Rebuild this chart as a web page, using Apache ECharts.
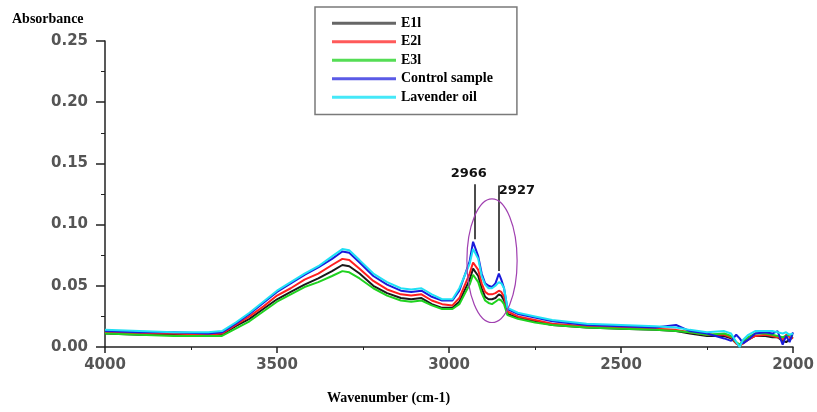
<!DOCTYPE html>
<html>
<head>
<meta charset="utf-8">
<script src="https://cdn.jsdelivr.net/npm/echarts@6/dist/echarts.min.js"></script>
<style>
  html, body { margin: 0; padding: 0; background: #fff; }
  #chart { width: 817px; height: 412px; }
</style>
</head>
<body>
<div id="chart"></div>
<script>
// wavenumbers (cm-1), descending
const wavenumbers = [4000, 3900, 3800, 3700, 3660, 3620, 3580, 3540, 3500, 3460, 3420, 3380, 3340, 3310, 3290, 3260, 3220, 3180, 3140, 3110, 3080, 3050, 3020, 2990, 2970, 2955, 2940, 2930, 2925, 2915, 2905, 2895, 2885, 2875, 2865, 2855, 2848, 2840, 2830, 2800, 2750, 2700, 2600, 2500, 2400, 2340, 2300, 2250, 2200, 2180, 2165, 2155, 2145, 2130, 2110, 2080, 2060, 2045, 2030, 2020, 2010, 2000]

const e1l = [0.011, 0.010, 0.010, 0.009, 0.010, 0.017, 0.023, 0.031, 0.039, 0.045, 0.051, 0.056, 0.062, 0.067, 0.066, 0.060, 0.050, 0.044, 0.040, 0.039, 0.040, 0.035, 0.032, 0.032, 0.037, 0.046, 0.055, 0.064, 0.065, 0.058, 0.048, 0.041, 0.039, 0.039, 0.040, 0.043, 0.042, 0.038, 0.027, 0.024, 0.021, 0.018, 0.016, 0.015, 0.014, 0.013, 0.011, 0.009, 0.009, 0.007, 0.003, 0.001, 0.004, 0.006, 0.009, 0.009, 0.008, 0.008, 0.005, 0.004, 0.006, 0.008]
const e2l = [0.012, 0.011, 0.011, 0.010, 0.011, 0.018, 0.025, 0.033, 0.042, 0.048, 0.055, 0.060, 0.067, 0.072, 0.071, 0.064, 0.054, 0.047, 0.043, 0.042, 0.043, 0.038, 0.035, 0.034, 0.040, 0.050, 0.060, 0.069, 0.070, 0.063, 0.052, 0.045, 0.043, 0.043, 0.044, 0.046, 0.045, 0.041, 0.029, 0.025, 0.022, 0.019, 0.017, 0.016, 0.015, 0.014, 0.012, 0.010, 0.010, 0.008, 0.003, 0.001, 0.003, 0.006, 0.009, 0.010, 0.009, 0.008, 0.006, 0.010, 0.008, 0.007]
const e3l = [0.011, 0.010, 0.009, 0.009, 0.009, 0.015, 0.021, 0.029, 0.037, 0.043, 0.049, 0.053, 0.058, 0.062, 0.061, 0.056, 0.048, 0.042, 0.038, 0.037, 0.038, 0.034, 0.031, 0.031, 0.035, 0.043, 0.051, 0.059, 0.060, 0.053, 0.044, 0.038, 0.036, 0.035, 0.037, 0.039, 0.038, 0.035, 0.026, 0.023, 0.020, 0.018, 0.016, 0.015, 0.014, 0.013, 0.012, 0.010, 0.011, 0.009, 0.004, 0.002, 0.005, 0.008, 0.011, 0.011, 0.010, 0.009, 0.008, 0.009, 0.010, 0.009]
const control = [0.013, 0.012, 0.012, 0.011, 0.012, 0.019, 0.027, 0.036, 0.045, 0.052, 0.059, 0.065, 0.072, 0.078, 0.077, 0.069, 0.058, 0.051, 0.046, 0.045, 0.046, 0.041, 0.038, 0.038, 0.046, 0.058, 0.070, 0.086, 0.087, 0.074, 0.060, 0.052, 0.050, 0.049, 0.052, 0.060, 0.055, 0.048, 0.031, 0.027, 0.024, 0.021, 0.018, 0.017, 0.016, 0.018, 0.013, 0.011, 0.007, 0.005, 0.010, 0.007, 0.003, 0.006, 0.011, 0.012, 0.011, 0.013, 0.002, 0.009, 0.004, 0.012]
const lavender = [0.014, 0.013, 0.012, 0.012, 0.013, 0.020, 0.028, 0.037, 0.046, 0.053, 0.060, 0.066, 0.074, 0.080, 0.079, 0.071, 0.060, 0.053, 0.048, 0.047, 0.048, 0.043, 0.039, 0.039, 0.048, 0.058, 0.068, 0.080, 0.081, 0.072, 0.058, 0.051, 0.048, 0.048, 0.050, 0.053, 0.052, 0.048, 0.032, 0.028, 0.025, 0.022, 0.019, 0.018, 0.017, 0.016, 0.014, 0.012, 0.013, 0.011, 0.004, 0.000, 0.006, 0.010, 0.013, 0.013, 0.013, 0.012, 0.011, 0.012, 0.010, 0.011]

const seriesNames = ['E1l', 'E2l', 'E3l', 'Control sample', 'Lavender oil']
const seriesColors = ['#1a1a1a', '#ff1f1f', '#1fd21f', '#1a1adb', '#1fe0f5']
const legendColors = ['#666666', '#ff5a5a', '#55dd55', '#5a5ae6', '#45e8f8']
const xTicks = [4000, 3500, 3000, 2500, 2000]
const yTicks = [0.00, 0.05, 0.10, 0.15, 0.20, 0.25]

// peak annotations: [wavenumber, bottom, top, label]
const peakMarks = [
  [2925, 0.088, 0.133, '2966'],
  [2855, 0.062, 0.132, '2927'],
]
// ellipse around the peaks, in data units: center and one corner
const ellipseCenter = [2875, 0.0705]
const ellipseEdge = [2802, 0.121]

const chart = echarts.init(document.getElementById('chart'))

const allValues = [e1l, e2l, e3l, control, lavender]
const serifBold = { fontFamily: 'Liberation Serif', fontWeight: 'bold', color: '#000' }

const option = {
  animation: false,
  backgroundColor: '#fff',
  title: [
    { text: 'Absorbance', left: 12, top: 12, padding: 0, textStyle: Object.assign({ fontSize: 14 }, serifBold) },
    { text: 'Wavenumber (cm-1)', left: 327, top: 391, padding: 0, textStyle: Object.assign({ fontSize: 14 }, serifBold) },
  ],
  legend: {
    orient: 'vertical',
    left: 315,
    top: 7,
    padding: [9, 24, 10, 17],
    borderColor: '#7a7a7a',
    borderWidth: 1.5,
    icon: 'rect',
    itemWidth: 64,
    itemHeight: 3,
    itemGap: 4,
    textStyle: Object.assign({ fontSize: 14, lineHeight: 14.5 }, serifBold),
    data: seriesNames.map((n, i) => ({ name: n, itemStyle: { color: legendColors[i] } })),
  },
  grid: { left: 105, right: 24, top: 41, bottom: 65 },
  xAxis: {
    type: 'value',
    inverse: true,
    min: xTicks[xTicks.length - 1],
    max: xTicks[0],
    interval: 500,
    splitLine: { show: false },
    axisLine: { lineStyle: { color: '#222', width: 1.5 } },
    axisTick: { length: 6, lineStyle: { color: '#222', width: 1.5 } },
    minorTick: { show: true, splitNumber: 2, length: 3, lineStyle: { color: '#222' } },
    axisLabel: {
      margin: 11,
      color: '#555',
      fontFamily: 'DejaVu Sans',
      fontWeight: 'bold',
      fontSize: 15,
      formatter: v => String(v),
    },
  },
  yAxis: {
    type: 'value',
    min: yTicks[0],
    max: yTicks[yTicks.length - 1],
    interval: 0.05,
    splitLine: { show: false },
    axisLine: { show: true, lineStyle: { color: '#222', width: 1.5 } },
    axisTick: { show: true, length: 9, lineStyle: { color: '#222', width: 1.5 } },
    minorTick: { show: true, splitNumber: 2, length: 4, lineStyle: { color: '#222' } },
    axisLabel: {
      margin: 17,
      color: '#555',
      fontFamily: 'DejaVu Sans',
      fontWeight: 'bold',
      fontSize: 15,
      formatter: v => v.toFixed(2),
    },
  },
  series: allValues.map((vals, i) => ({
    name: seriesNames[i],
    type: 'line',
    symbol: 'none',
    data: wavenumbers.map((w, j) => [w, vals[j]]),
    lineStyle: { color: seriesColors[i], width: 2 },
    itemStyle: { color: seriesColors[i] },
    markLine: i === 4 ? {
      symbol: 'none',
      silent: true,
      lineStyle: { color: '#111', width: 1.5, type: 'solid' },
      label: { show: true, position: 'end', fontFamily: 'DejaVu Sans', fontWeight: 'bold', fontSize: 13, color: '#111' },
      data: peakMarks.map((m, k) => [
        {
          coord: [m[0], m[1]],
          label: k === 0
            ? { formatter: m[3], distance: 4, padding: [0, 12, 0, 0] }
            : { formatter: m[3], distance: -12, padding: [0, 0, 0, 36] },
        },
        { coord: [m[0], m[2]] },
      ]),
    } : undefined,
  })),
}

chart.setOption(option)

const c = chart.convertToPixel({ gridIndex: 0 }, ellipseCenter)
const e = chart.convertToPixel({ gridIndex: 0 }, ellipseEdge)
chart.setOption({
  graphic: [{
    type: 'ellipse',
    z: 100,
    shape: { cx: c[0], cy: c[1], rx: Math.abs(e[0] - c[0]), ry: Math.abs(c[1] - e[1]) },
    style: { fill: 'none', stroke: '#a040b0', lineWidth: 1.2 },
  }],
})
</script>
</body>
</html>
